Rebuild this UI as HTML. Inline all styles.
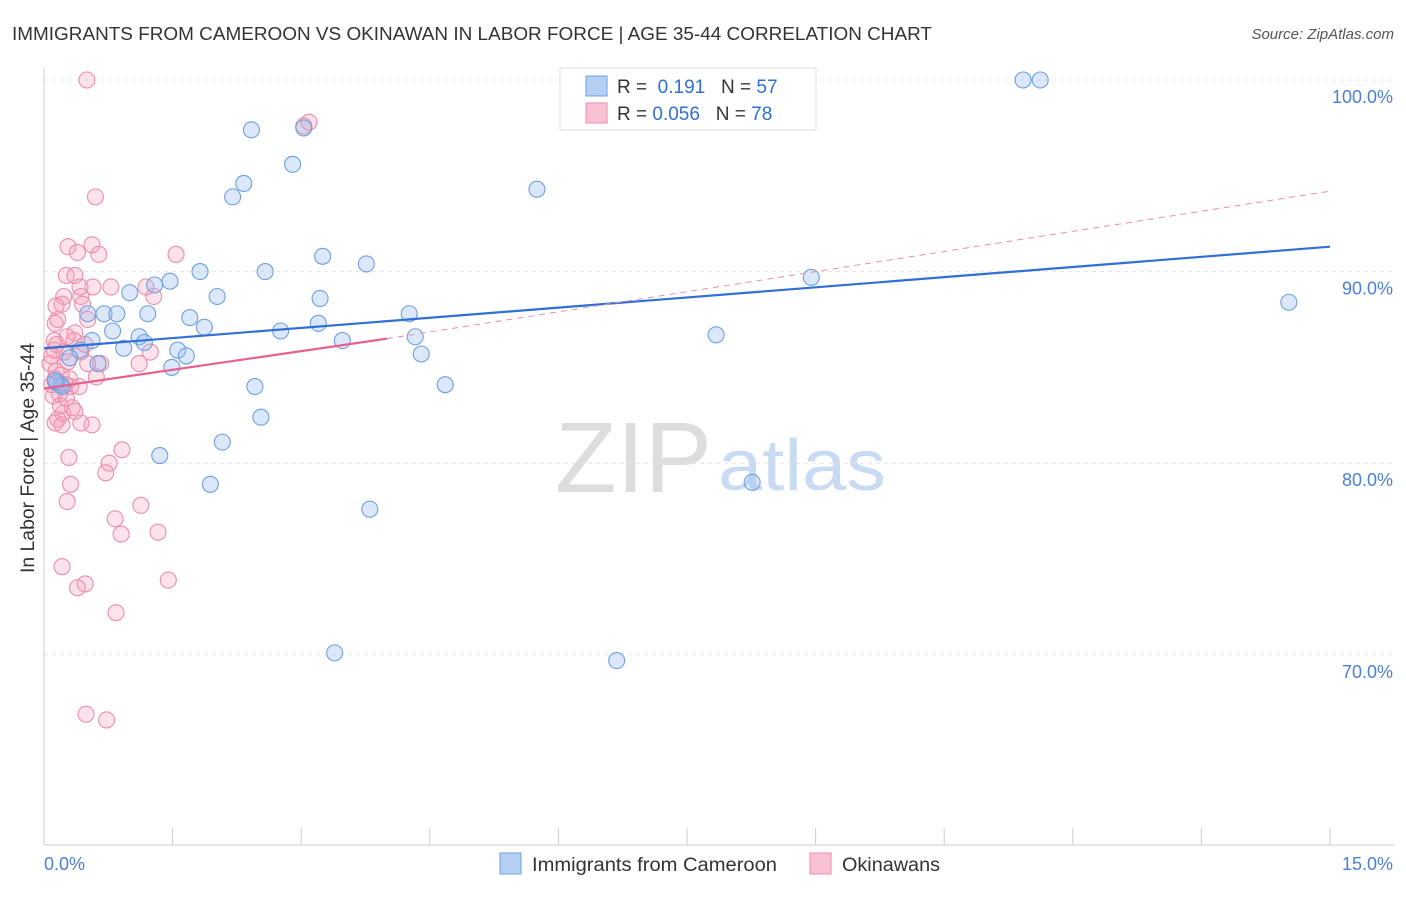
<!DOCTYPE html>
<html><head><meta charset="utf-8"><style>
body{margin:0;background:#fff;font-family:"Liberation Sans",sans-serif;}
svg text{font-family:"Liberation Sans",sans-serif;}
</style></head><body>
<svg width="1406" height="892" xmlns="http://www.w3.org/2000/svg" id="chart">
<text x="12" y="40" font-size="18" fill="#333" textLength="920" lengthAdjust="spacingAndGlyphs">IMMIGRANTS FROM CAMEROON VS OKINAWAN IN LABOR FORCE | AGE 35-44 CORRELATION CHART</text>
<text x="1394" y="39" font-size="15" fill="#555" font-style="italic" text-anchor="end">Source: ZipAtlas.com</text>
<text transform="translate(34,458) rotate(-90)" font-size="19" fill="#333" text-anchor="middle" textLength="230" lengthAdjust="spacingAndGlyphs">In Labor Force | Age 35-44</text>
<text x="555" y="492" font-size="100" fill="#ddd" font-family="Liberation Serif" textLength="157" lengthAdjust="spacingAndGlyphs">ZIP</text>
<text x="718" y="490" font-size="72" fill="#c9daf3" textLength="168" lengthAdjust="spacingAndGlyphs">atlas</text>
<g id="grid"></g><g id="axes"></g><g id="pts"></g><g id="lines"></g>
<g>
<rect x="560" y="68" width="256" height="62" fill="#fff" stroke="#ddd"/>
<rect x="586" y="76" width="21" height="20" fill="#b5d0f3" stroke="#6f9fe0"/>
<rect x="586" y="103" width="21" height="20" fill="#f9c2d2" stroke="#ec8eab"/>
<text x="617" y="93" font-size="19" fill="#333">R = <tspan fill="#2f6fd6">&#160;0.191</tspan>&#160;&#160;&#160;N = <tspan fill="#2f6fd6">57</tspan></text>
<text x="617" y="120" font-size="19" fill="#333">R = <tspan fill="#2f6fd6">0.056</tspan>&#160;&#160;&#160;N = <tspan fill="#2f6fd6">78</tspan></text>
</g>
<g>
<rect x="500" y="853" width="21" height="21" fill="#b5d0f3" stroke="#6f9fe0"/>
<text x="532" y="871" font-size="19" fill="#333" textLength="245" lengthAdjust="spacingAndGlyphs">Immigrants from Cameroon</text>
<rect x="810" y="853" width="21" height="21" fill="#f9c2d2" stroke="#ec8eab"/>
<text x="842" y="871" font-size="19" fill="#333" textLength="98" lengthAdjust="spacingAndGlyphs">Okinawans</text>
</g>
</svg>
<script>
const xTicks=[0,1.5,3,4.5,6,7.5,9,10.5,12,13.5,15];
const yTicks=[70,80,90,100];
const yTickLabels=["70.0%","80.0%","90.0%","100.0%"];
const blueX=[2.42,3.03,2.90,2.33,2.20,5.75,11.42,11.62,3.25,3.76,2.58,1.82,1.47,1.29,1.00,2.02,3.22,0.70,0.85,1.21,1.70,1.87,0.80,1.11,2.76,3.20,4.26,4.33,7.84,8.95,14.52,0.56,0.93,1.17,1.56,1.66,0.42,1.49,0.63,3.48,4.40,2.46,4.68,2.53,2.08,1.35,1.94,8.26,3.80,3.39,6.68,0.19,0.15,0.21,0.13,0.30,0.51];
const blueY=[97.4,97.5,95.6,94.6,93.9,94.3,100,100,90.8,90.4,90.0,90.0,89.5,89.3,88.9,88.7,88.6,87.8,87.8,87.8,87.6,87.1,86.9,86.6,86.9,87.3,87.8,86.6,86.7,89.7,88.4,86.4,86.0,86.3,85.9,85.6,85.9,85.0,85.2,86.4,85.7,84.0,84.1,82.4,81.1,80.4,78.9,79.0,77.6,70.1,69.7,84.1,84.2,84.0,84.3,85.5,87.8];
const pinkX=[0.50,3.09,3.03,0.60,0.28,0.56,0.39,1.54,0.26,0.36,0.57,0.78,1.19,1.28,0.23,0.43,0.21,0.45,0.13,0.51,0.16,0.36,0.35,0.12,0.23,0.43,1.24,0.12,0.66,1.11,0.28,0.14,0.20,0.30,0.13,0.09,0.25,0.31,0.18,0.11,0.22,0.36,0.16,0.13,0.43,0.56,0.29,0.91,0.76,0.72,0.31,0.27,1.13,0.83,0.90,1.33,0.21,0.48,0.39,1.45,0.84,0.49,0.73,0.07,0.15,0.33,0.41,0.19,0.26,0.51,0.61,0.09,0.21,0.27,0.42,0.64,0.14,0.48];
const pinkY=[100,97.8,97.6,93.9,91.3,91.4,91.0,90.9,89.8,89.8,89.2,89.2,89.2,88.7,88.7,88.7,88.3,88.3,87.3,87.5,87.5,86.8,86.4,86.4,85.8,85.8,85.8,85.9,85.2,85.2,85.3,84.8,84.6,84.4,84.4,84.1,84.1,84.0,83.6,83.5,82.6,82.7,82.3,82.1,82.1,82.0,80.3,80.7,80.0,79.5,78.9,78.0,77.8,77.1,76.3,76.4,74.6,73.7,73.5,73.9,72.2,66.9,66.6,85.2,86.2,82.9,84.0,83.0,83.4,85.2,84.5,85.6,82.0,86.6,89.2,90.9,88.2,86.2];
const blueFit=[86.0,91.3];
const pinkFitStart=83.9, pinkFitSolidEnd=[4.0,86.5], pinkFitEnd=94.2;
const X0=44,X1=1330,Y100=80,PX10=191.6;
const sx=v=>X0+(v/15)*(X1-X0);
const sy=v=>Y100+(100-v)/10*PX10;
const NS="http://www.w3.org/2000/svg";
function mk(parent,tag,attrs){const e=document.createElementNS(NS,tag);for(const k in attrs)e.setAttribute(k,attrs[k]);document.getElementById(parent).appendChild(e);return e;}
yTicks.forEach((t,i)=>{
 const g=mk('grid','line',{x1:44,x2:1394,y1:sy(t),y2:sy(t),stroke:'#e3e3e3','stroke-dasharray':'4,4'});
 
 
 const l=mk('grid','text',{x:1393,y:sy(t)+23,'font-size':18,fill:'#4a7fd6','text-anchor':'end'});
 l.textContent=yTickLabels[i];
 
 
});
const ax=mk('axes','line',{x1:44,x2:44,y1:68,y2:845,stroke:'#ccc'});


const bx=mk('axes','line',{x1:44,x2:1394,y1:845,y2:845,stroke:'#ccc'});


xTicks.forEach(t=>{const k=mk('axes','line',{x1:sx(t),x2:sx(t),y1:828,y2:845,stroke:'#ccc'});
 
 });
const xl0=mk('axes','text',{x:44,y:870,'font-size':18,fill:'#4a7fd6'});xl0.textContent='0.0%';


const xl1=mk('axes','text',{x:1393,y:870,'font-size':18,fill:'#4a7fd6','text-anchor':'end'});xl1.textContent='15.0%';


pinkX.forEach((v,i)=>{const c=mk('pts','circle',{cx:sx(v),cy:sy(pinkY[i]),r:8,fill:'rgba(244,160,186,0.3)',stroke:'#ec8eab','stroke-width':1.1});
 
 });
blueX.forEach((v,i)=>{const c=mk('pts','circle',{cx:sx(v),cy:sy(blueY[i]),r:8,fill:'rgba(150,190,240,0.35)',stroke:'#6f9fe0','stroke-width':1.1});
 
 });
const bl=mk('lines','line',{x1:sx(0),y1:sy(blueFit[0]),x2:sx(15),y2:sy(blueFit[1]),stroke:'#2f6fd6','stroke-width':2.2});


const pd=mk('lines','line',{x1:sx(pinkFitSolidEnd[0]),y1:sy(pinkFitSolidEnd[1]),x2:sx(15),y2:sy(pinkFitEnd),stroke:'#ec8eab','stroke-width':1,'stroke-dasharray':'6,5'});


const pl=mk('lines','line',{x1:sx(0),y1:sy(pinkFitStart),x2:sx(pinkFitSolidEnd[0]),y2:sy(pinkFitSolidEnd[1]),stroke:'#e8608f','stroke-width':2.2});


</script>
</body></html>
